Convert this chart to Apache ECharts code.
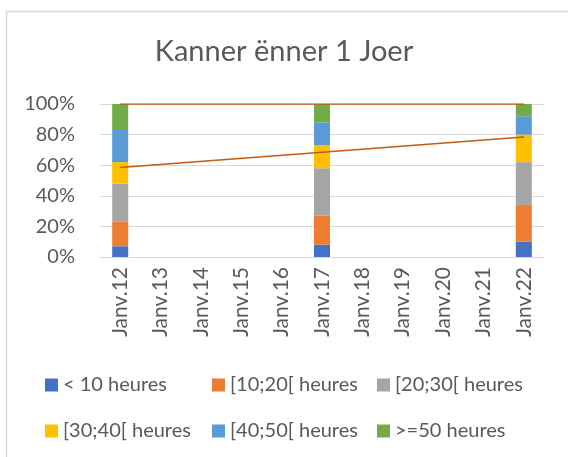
<!DOCTYPE html>
<html>
<head>
<meta charset="utf-8">
<script src="https://cdn.jsdelivr.net/npm/echarts@6/dist/echarts.min.js"></script>
<style>
  html, body { margin: 0; padding: 0; background: #fff; }
  #chart { width: 568px; height: 457px; }
</style>
</head>
<body>
<div id="chart"></div>
<script>
  // categories on the x axis
  var years = ['Janv.12', 'Janv.13', 'Janv.14', 'Janv.15', 'Janv.16', 'Janv.17',
    'Janv.18', 'Janv.19', 'Janv.20', 'Janv.21', 'Janv.22']

  // share of each class (%) - only three survey years have data
  var lt10 = [7, null, null, null, null, 8, null, null, null, null, 10]
  var h10_20 = [16, null, null, null, null, 19, null, null, null, null, 24]
  var h20_30 = [25, null, null, null, null, 31, null, null, null, null, 28]
  var h30_40 = [14, null, null, null, null, 15, null, null, null, null, 18]
  var h40_50 = [21, null, null, null, null, 15, null, null, null, null, 12]
  var ge50 = [17, null, null, null, null, 12, null, null, null, null, 8]

  // the two orange lines
  var topLine = [100, null, null, null, null, 100, null, null, null, null, 100]
  var trendLine = [58.5, null, null, null, null, 68.5, null, null, null, null, 78.5]

  var yTicks = [0, 20, 40, 60, 80, 100]

  var names = ['< 10 heures', '[10;20[ heures', '[20;30[ heures',
    '[30;40[ heures', '[40;50[ heures', '>=50 heures']
  var colors = ['#4472C4', '#ED7D31', '#A5A5A5', '#FFC000', '#5B9BD5', '#70AD47']

  var font = 'Lato, "Noto Sans", sans-serif'
  var grey = '#595959'

  function bar (i, data) {
    return {
      name: names[i],
      type: 'bar',
      stack: 'total',
      barWidth: 16,
      data: data,
      itemStyle: { color: colors[i] },
      emphasis: { disabled: true }
    }
  }
  function line (data) {
    return {
      type: 'line',
      data: data,
      connectNulls: true,
      showSymbol: false,
      symbol: 'none',
      z: 5,
      lineStyle: { color: '#C55A11', width: 1.5 }
    }
  }

  // one legend per item so the columns line up like in Excel
  var legendLeft = [45, 212, 377]
  var legendTop = [375, 421]
  var legends = names.map(function (n, i) {
    return {
      data: [n],
      left: legendLeft[i % 3],
      top: legendTop[Math.floor(i / 3)],
      padding: 0,
      itemWidth: 13,
      itemHeight: 13,
      icon: 'rect',
      selectedMode: false,
      textStyle: { color: grey, fontSize: 20, fontFamily: font }
    }
  })

  var myChart = echarts.init(document.getElementById('chart'))
  myChart.setOption({
    animation: false,
    title: {
      text: 'Kanner ënner 1 Joer',
      left: 'center',
      top: 32,
      textStyle: { color: grey, fontSize: 29, fontWeight: 'normal', fontFamily: font }
    },
    graphic: [{
      type: 'rect',
      shape: { x: 6.5, y: 11.5, width: 700, height: 600 },
      style: { fill: 'none', stroke: '#D9D9D9', lineWidth: 1.5 },
      silent: true
    }],
    legend: legends,
    grid: {
      left: 100,
      right: 24,
      top: 104,
      height: 153
    },
    xAxis: {
      type: 'category',
      data: years,
      axisLine: { lineStyle: { color: '#D9D9D9', width: 1 } },
      axisTick: { show: false },
      axisLabel: {
        rotate: 90,
        color: grey,
        fontSize: 21,
        fontFamily: font,
        margin: 10,
        interval: 0
      }
    },
    yAxis: {
      type: 'value',
      min: yTicks[0],
      max: yTicks[yTicks.length - 1],
      interval: 20,
      axisLine: { show: false },
      axisTick: { show: false },
      splitLine: { lineStyle: { color: '#D9D9D9', width: 1 } },
      axisLabel: {
        color: grey,
        fontSize: 20,
        fontFamily: font,
        margin: 25,
        formatter: '{value}%'
      }
    },
    series: [
      bar(0, lt10),
      bar(1, h10_20),
      bar(2, h20_30),
      bar(3, h30_40),
      bar(4, h40_50),
      bar(5, ge50),
      line(topLine),
      line(trendLine)
    ]
  })
</script>
</body>
</html>
